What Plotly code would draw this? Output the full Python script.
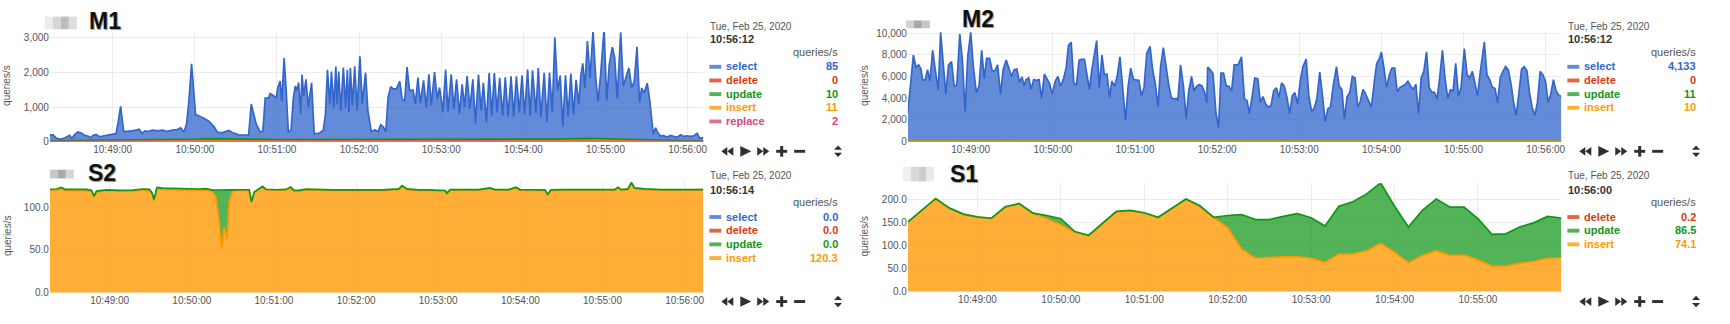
import pandas as pd
import plotly.graph_objects as go

W, H = 1730, 324
BASE = pd.Timestamp("2020-02-25 10:48:00")

COL = {"select": "#3366CC", "delete": "#DC3912", "update": "#109618",
       "insert": "#FF9900", "replace": "#DD4477"}
FILL = {"select": "rgba(51,102,204,0.76)", "delete": "rgba(220,57,18,0.78)",
        "update": "rgba(16,150,24,0.72)", "insert": "rgba(255,153,0,0.78)",
        "replace": "rgba(221,68,119,0.78)"}

# ---------------- data (time = seconds after 10:48:00) ----------------
M1_SELECT_T = [14.0, 16.4, 18.8, 21.3, 24.9, 26.8, 28.5, 30.2, 32.2, 34.6, 37.0, 39.4, 41.8, 43.8, 45.5, 47.9, 50.3, 52.7, 55.2, 58.8,
               62.4, 64.1, 65.8, 68.0, 70.9, 74.5, 77.7, 79.4, 81.3, 83.5, 85.4, 89.1, 92.7, 96.3, 98.0, 100.0, 103.6, 107.2, 109.6, 112.1,
               114.0, 115.7, 117.6, 119.3, 120.5, 123.0, 126.6, 130.2, 133.8, 136.3, 139.9, 144.7, 148.4, 152.0, 155.6, 159.3, 161.2, 162.9, 164.8, 167.7,
               169.7, 171.4, 173.8, 175.0, 177.4, 179.4, 180.6, 182.3, 183.5, 185.2, 186.6, 188.3, 190.3, 192.0, 193.4, 194.4, 195.8, 197.3, 198.3, 199.5,
               201.2, 202.9, 204.1, 205.3, 207.2, 210.1, 213.8, 215.4, 216.9, 218.6, 219.8, 221.5, 223.0, 223.9, 225.1, 226.6, 228.5, 230.2, 231.4, 232.6,
               233.6, 235.1, 236.8, 238.5, 240.6, 242.3, 244.7, 246.4, 248.9,
               251.5, 253.9, 255.8, 257.5, 259.5, 261.2, 263.1, 264.8, 267.2, 269.7, 271.4, 273.3, 275.0, 276.9, 279.4, 281.1, 283.0, 284.7, 287.1, 289.1,
               291.0, 292.7, 295.1, 297.1, 298.8, 301.2, 303.2, 304.9, 307.3, 309.2, 311.2, 313.3, 315.3, 317.0, 318.9, 320.9, 323.1, 325.0, 327.2, 329.1,
               330.8, 333.0, 335.0, 336.9, 338.8, 340.8, 342.7, 344.9, 346.8, 348.8, 351.0, 352.9, 354.9, 357.0, 359.0, 360.9, 363.1, 365.0, 366.7, 369.2,
               370.9, 372.8, 375.2, 377.2, 379.1, 381.1, 383.0, 385.0, 386.9, 388.8, 390.8, 392.7, 394.7, 396.6, 398.5, 400.5, 401.9, 403.4, 404.9, 406.8,
               408.7, 410.9, 412.9, 414.6, 416.5, 418.9, 420.9, 422.8, 425.0, 426.7, 428.6, 431.1, 433.0, 434.9, 437.1, 439.1, 441.0, 443.0, 444.9, 446.4,
               448.3, 450.5, 452.4, 454.9, 456.6, 458.3, 460.2, 462.6, 465.0, 467.4, 469.9, 472.3, 474.8, 477.2, 479.6, 482.0, 484.5, 486.9, 488.8, 491.5]
M1_SELECT = [171, 171, 76, 40, 76, 124, 152, 57, 171, 247, 219, 152, 124, 76, 143, 171, 105, 124, 143, 152,
             190, 551, 979, 247, 266, 266, 285, 314, 190, 266, 247, 285, 266, 285, 266, 247, 285, 295, 342, 219,
             456, 1121, 2185, 1406, 722, 665, 599, 504, 361, 190, 171, 247, 171, 124, 124, 124, 1026, 741, 456, 219,
             238, 1197, 1197, 1330, 1264, 1216, 1501, 1691, 1102, 2356, 1501, 219, 266, 1216, 1549, 1406, 1644, 741, 1881, 1264,
             1739, 931, 1311, 1644, 171, 171, 266, 741, 2024, 1026, 1976, 931, 2119, 1026, 1976, 836, 2090, 931, 2024, 789,
             2071, 979, 2119, 836, 2404, 1026, 1929, 836, 219,
             266, 219, 409, 361, 219, 1216, 1520, 1454, 1454, 1672, 1169, 1102, 2090, 1406, 1425, 1026, 1786, 1045, 1710, 912,
             1881, 979, 1948, 1169, 1501, 789, 2024, 817, 1881, 884, 1739, 741, 1596, 931, 1834, 884, 1739, 456, 1881, 836,
             1644, 504, 1929, 694, 1929, 789, 1786, 694, 1805, 675, 1834, 665, 1834, 789, 1862, 741, 2024, 694, 2005, 760,
             2071, 646, 1929, 504, 1929, 789, 2945, 1406, 1834, 361, 1834, 646, 1881, 694, 1691, 979, 1786, 2166, 1454, 2812,
             1739, 3116, 1739, 1074, 1881, 3164, 1121, 2166, 2660, 2356, 1169, 3097, 1549, 1786, 2071, 1501, 1691, 2689, 1074, 1501,
             1359, 1644, 1121, 171, 361, 219, 124, 143, 95, 152, 124, 95, 171, 124, 143, 124, 143, 219, 76, 85]
M1_SMALL_T = [14, 44, 74, 104, 134, 164, 194, 224, 254, 284, 314, 344, 374, 404, 434, 464, 491.5]
M1_UPDATE = [10, 15, 20, 25, 60, 30, 35, 30, 55, 40, 35, 30, 35, 65, 40, 15, 10]
M1_INSERT = [12, 15, 20, 18, 25, 20, 22, 18, 15, 20, 25, 20, 20, 30, 20, 12, 11]
M1_REPLACE = [3, 5, 4, 6, 5, 8, 6, 5, 4, 6, 5, 7, 5, 6, 5, 3, 2]
M1_DELETE = [0, 0, 0, 0, 0, 0, 0, 0, 0, 0, 0, 0, 0, 0, 0, 0, 0]

M2_SELECT_T = [14.0, 16.4, 18.1, 20.0, 22.0, 23.7, 24.9, 26.8, 28.5, 30.2, 32.2, 34.1, 36.3, 38.0, 39.9, 41.8, 43.8, 46.0, 47.9, 49.8,
               52.0, 53.9, 55.9, 57.8, 60.0, 61.9, 64.1, 66.1, 68.0, 69.9, 71.6, 73.8, 75.7, 77.7, 79.6, 81.8, 83.7, 85.9, 87.8, 89.8,
               91.7, 93.7, 95.6, 97.5, 99.0, 100.4, 102.4, 104.1, 106.0, 107.9, 109.9, 111.8, 113.8, 115.7, 117.6, 119.6, 121.7, 123.7, 125.6, 127.6,
               129.7, 131.4, 133.4, 135.3, 137.2, 139.2, 141.1, 143.1, 144.7, 146.7, 148.4, 150.3, 152.0, 153.9, 155.9, 157.6, 159.5, 161.5, 163.1, 165.1,
               167.0, 169.0, 170.9, 173.1, 175.0, 176.9, 178.9, 180.8, 182.8, 184.7, 186.6, 188.6, 191.0, 192.9, 194.9, 196.8, 198.7, 200.7, 202.6, 204.6,
               206.5, 208.4, 210.4, 211.3, 213.3, 215.4, 217.4, 219.3, 221.3, 223.2, 225.1, 227.1, 229.0, 230.9, 232.4, 233.1, 235.1, 237.0, 239.2, 241.1,
               242.8, 244.7, 246.7, 248.6, 250.6, 252.5,
               255.3, 257.8, 260.0, 261.9, 263.6, 265.5, 267.5, 269.7, 271.6, 273.5, 275.5, 277.4, 279.4, 281.3, 283.3, 285.2, 287.1, 289.1, 291.0, 293.0,
               294.9, 296.8, 298.8, 300.7, 302.7, 305.1, 307.0, 309.0, 310.9, 312.9, 315.0, 317.0, 318.9, 320.9, 322.8, 324.8, 327.2, 329.1, 331.1, 333.0,
               335.0, 336.9, 338.8, 340.8, 342.7, 344.7, 346.6, 348.5, 350.5, 352.7, 354.6, 356.6, 358.3, 360.0, 361.9, 363.8, 365.8, 367.7, 369.7, 371.6,
               373.5, 375.5, 377.4, 379.4, 381.3, 383.3, 385.2, 387.1, 389.1, 391.0, 393.0, 394.9, 396.8, 398.8, 400.7, 402.7, 404.6, 406.6, 408.5, 410.4,
               412.4, 414.3, 416.3, 418.2, 420.6, 422.6, 424.5, 426.5, 428.4, 430.3, 432.3, 435.2, 437.1, 439.1, 441.0, 443.0, 444.9, 446.8, 448.8, 450.7,
               452.7, 454.6, 456.6, 458.5, 460.4, 462.4, 464.3, 466.3, 468.2, 470.1, 472.1, 474.0, 476.0, 477.9, 479.9, 481.8, 483.7, 485.7, 487.6, 489.6,
               491.5]
M2_SELECT = [2550, 6000, 7950, 6840, 7050, 6660, 5640, 5700, 6600, 5550, 8400, 6600, 4740, 10050, 7500, 4350, 7050, 7350, 5100, 5160,
             9900, 7500, 2760, 7800, 10050, 6900, 4500, 5100, 8400, 5760, 7650, 7650, 6510, 6510, 7050, 4350, 6600, 7500, 6750, 6000,
             6600, 6660, 5460, 5940, 5100, 5700, 5850, 4800, 5700, 5640, 5700, 3960, 6210, 5700, 5340, 4350, 5550, 6000, 5100, 5700,
             6750, 8850, 9150, 5400, 5160, 7500, 7560, 7560, 6300, 4800, 6540, 7950, 9300, 4950, 7950, 6150, 6210, 4050, 5550, 5100,
             6000, 7800, 5250, 1950, 5100, 6750, 5700, 5700, 5640, 4200, 4950, 8100, 8760, 6600, 5250, 3150, 6900, 8640, 6900, 5250,
             4050, 3900, 3960, 3750, 7050, 5100, 2100, 4650, 6000, 4650, 5100, 5250, 5100, 4500, 3540, 6840, 6600, 6240, 2550, 1300,
             6300, 6300, 5100, 5100, 4650, 7050,
             7050, 7800, 3900, 3750, 2550, 4050, 5850, 5790, 3600, 4140, 3450, 3150, 3300, 4650, 4950, 4050, 5400, 5100, 4050, 2550,
             4200, 4500, 3450, 5550, 6900, 7590, 4200, 2760, 3060, 3960, 6390, 4200, 1800, 3000, 3150, 5100, 6900, 5100, 4800, 2100,
             4140, 4500, 6000, 5850, 3150, 3750, 4800, 4350, 3750, 3150, 5250, 7200, 7560, 8250, 6750, 4950, 6150, 6750, 6750, 4560,
             4950, 5100, 5250, 5550, 5100, 4800, 5250, 2550, 5850, 6450, 8250, 4950, 4560, 4500, 3900, 6000, 8400, 5700, 3960, 4740,
             4650, 7200, 4200, 4950, 8550, 6150, 5850, 6450, 5250, 4200, 6450, 9150, 6150, 5700, 5010, 4860, 3540, 5850, 6450, 6900,
             6600, 5400, 3600, 2400, 4350, 6660, 6900, 6540, 4500, 3150, 2400, 3600, 6450, 6150, 5550, 3600, 4350, 5700, 4650, 4260,
             4133]
M2_SMALL_T = [14, 74, 134, 194, 254, 314, 374, 434, 491.5]
M2_UPDATE = [12, 14, 10, 15, 12, 10, 14, 16, 11]
M2_INSERT = [10, 11, 9, 12, 10, 11, 10, 12, 10]
M2_DELETE = [0, 0, 0, 0, 0, 0, 0, 0, 0]

S2_T = [16.3, 21.2, 24.8, 27.2, 35.7, 43.0, 46.7, 48.6, 50.3, 57.6, 67.3, 77.0, 84.3, 89.1, 91.1, 92.3, 93.5, 94.5, 98.8, 106.1,
        115.8, 125.5, 130.4, 135.2, 137.7, 140.1, 141.8, 143.7, 145.7, 147.4, 149.8, 154.7, 161.9, 163.6, 165.6, 168.0, 171.7, 174.1, 181.4, 188.6,
        192.3, 194.7, 198.3, 203.2, 212.9, 222.6, 234.8, 246.9, 259.0, 271.2, 273.6, 277.2, 285.7, 293.0, 300.3, 305.1, 306.3, 308.8, 317.3, 329.4,
        337.9, 341.5, 351.3, 356.8, 359.7, 370.7, 378.0, 379.9, 382.3, 390.1, 402.2, 414.4, 428.9, 431.3, 433.8, 438.6, 441.1, 443.5, 450.8, 462.9,
        475.0, 487.2, 493.7]
S2_INSERT = [119.6, 119.6, 121.5, 119.2, 119.2, 119.2, 118.5, 111.7, 117.7, 119.2, 118.5, 118.5, 119.6, 119.2, 114.7, 107.2, 114.7, 121.5, 120.4, 120.0,
             119.6, 119.6, 120.0, 117.7, 110.9, 80.8, 50.6, 77.0, 61.9, 107.2, 118.5, 119.2, 119.2, 105.3, 116.6, 119.2, 123.0, 119.6, 119.2, 119.6,
             122.3, 118.5, 118.5, 120.0, 119.6, 119.2, 119.2, 119.2, 119.2, 120.4, 124.2, 120.4, 119.2, 119.2, 119.2, 118.5, 115.5, 119.6, 119.6, 119.6,
             121.5, 119.6, 119.6, 122.3, 119.6, 119.6, 119.2, 114.0, 119.2, 119.6, 119.6, 119.6, 119.6, 122.3, 119.6, 120.4, 127.9, 121.5, 120.4, 119.6,
             119.6, 119.6, 120.3]
S2_UPDATE = [1.2, 1.5, 1.5, 1.5, 1.5, 1.5, 1.2, 1.0, 1.0, 0.8, 1.0, 1.2, 1.5, 1.5, 1.5, 1.5, 1.5, 1.5, 1.8, 1.8,
             1.5, 1.5, 1.5, 2.0, 9.0, 39.0, 69.0, 43.0, 58.0, 13.0, 1.5, 1.0, 1.0, 1.0, 1.0, 1.0, 1.2, 1.2, 1.0, 1.0,
             1.0, 1.0, 1.0, 1.0, 0.8, 0.8, 0.8, 0.8, 0.8, 0.8, 0.8, 0.8, 0.8, 0.8, 0.8, 0.8, 0.8, 0.8, 0.8, 0.8,
             0.8, 0.8, 0.8, 0.8, 0.8, 0.8, 0.8, 0.8, 0.8, 0.8, 0.8, 0.8, 0.8, 0.8, 0.8, 0.8, 0.8, 0.8, 0.8, 0.8,
             0.8, 0.8, 0.0]
S2_ZERO_T = [16.3, 493.7]
S2_SELECT = [0.0, 0.0]
S2_DELETE = [0.0, 0.0]

S1_T = [10, 20, 30, 40, 50, 60, 70, 80, 90, 100, 110, 120, 130, 140, 150, 160, 170, 180, 190, 200, 210, 220, 230, 240,
        250, 260, 270, 280, 290, 300, 310, 320, 330, 340, 350, 360, 370, 380, 390, 400, 410, 420, 430, 440, 450, 460, 470, 480]
S1_INSERT = [151, 176, 202, 181, 168, 162, 159, 184, 191, 170, 159, 146, 129, 121, 149, 174, 176, 171, 161, 181, 201, 186, 161, 139,
             93, 73, 75, 76, 76, 73, 64, 82, 82, 89, 105, 86, 63, 79, 89, 79, 80, 69, 56, 56, 62, 66, 73, 74.1]
S1_UPDATE = [1, 1, 1, 1, 1, 1, 1, 1, 1, 1, 7, 13, 2, 2, 1, 1, 1, 1, 1, 1, 1, 1, 1, 27,
             75, 84, 82, 88, 94, 88, 79, 104, 114, 124, 132, 100, 78, 98, 113, 105, 104, 90, 69, 70, 79, 84, 91, 86.5]
S1_DELETE = [0.2, 0.2, 0.2, 0.2, 0.2, 0.2, 0.2, 0.2, 0.2, 0.2, 0.2, 0.2, 0.2, 0.2, 0.2, 0.2, 0.2, 0.2, 0.2, 0.2, 0.2, 0.2, 0.2, 0.2,
             0.2, 0.2, 0.2, 0.2, 0.2, 0.2, 0.2, 0.2, 0.2, 0.2, 0.2, 0.2, 0.2, 0.2, 0.2, 0.2, 0.2, 0.2, 0.2, 0.2, 0.2, 0.2, 0.2, 0.2]

M_XTICKS = ["10:49:00", "10:50:00", "10:51:00", "10:52:00", "10:53:00", "10:54:00", "10:55:00", "10:56:00"]
S1_XTICKS = ["10:49:00", "10:50:00", "10:51:00", "10:52:00", "10:53:00", "10:54:00", "10:55:00"]

LEG_M1 = [("select", "85"), ("delete", "0"), ("update", "10"), ("insert", "11"), ("replace", "2")]
LEG_M2 = [("select", "4,133"), ("delete", "0"), ("update", "11"), ("insert", "10")]
LEG_S2 = [("select", "0.0"), ("delete", "0.0"), ("update", "0.0"), ("insert", "120.3")]
LEG_S1 = [("delete", "0.2"), ("update", "86.5"), ("insert", "74.1")]

FONT = "Liberation Sans, Arial, sans-serif"


def X(px):
    return px / W


def Y(py):
    return 1 - py / H


def ts(t):
    return [(BASE + pd.Timedelta(seconds=float(s))).strftime("%Y-%m-%d %H:%M:%S.%f")[:-3] for s in t]


panels = [
    dict(title="M1", dom=(50, 705, 29, 142), yr=[0, 3170], yt=[0, 1000, 2000, 3000], yf=",", xr=(14.1, 491.5),
         xt=M_XTICKS, redraw=True, dx=0, dy=0, date_time="10:56:12", legend=LEG_M1,
         series=[("replace", M1_SMALL_T, M1_REPLACE), ("insert", M1_SMALL_T, M1_INSERT),
                 ("update", M1_SMALL_T, M1_UPDATE), ("delete", M1_SMALL_T, M1_DELETE),
                 ("select", M1_SELECT_T, M1_SELECT)],
         tx=88, ty=17.5, blur=((45, 77, 13, 26), ["#ececec", "#d6d6d6", "#bdbdbd", "#dedede"])),
    dict(title="M2", dom=(910, 1565, 29, 142), yr=[0, 10100], yt=[0, 2000, 4000, 6000, 8000, 10000], yf=",",
         xr=(14.1, 491.5), xt=M_XTICKS, redraw=True, dx=860, dy=0, date_time="10:56:12", legend=LEG_M2,
         series=[("insert", M2_SMALL_T, M2_INSERT), ("update", M2_SMALL_T, M2_UPDATE),
                 ("delete", M2_SMALL_T, M2_DELETE), ("select", M2_SELECT_T, M2_SELECT)],
         tx=963, ty=15.5, blur=((908, 932, 17, 25), ["#d2d2d2", "#a8a8a8", "#c6c6c6"])),
    dict(title="S2", dom=(50, 705, 183, 298), yr=[0, 130], yt=[0, 50, 100], yf=".1f", xr=(16.3, 493.7),
         xt=M_XTICKS, redraw=False, dx=0, dy=155, date_time="10:56:14", legend=LEG_S2,
         series=[("insert", S2_T, S2_INSERT), ("update", S2_T, S2_UPDATE),
                 ("delete", S2_ZERO_T, S2_DELETE), ("select", S2_ZERO_T, S2_SELECT)],
         tx=87, ty=174, blur=((50, 74, 171, 180), ["#c6c6c6", "#ababab", "#d4d4d4"])),
    dict(title="S1", dom=(910, 1565, 185, 297), yr=[0, 236], yt=[0, 50, 100, 150, 200], yf=".1f", xr=(10, 480),
         xt=S1_XTICKS, redraw=False, dx=860, dy=155, date_time="10:56:00", legend=LEG_S1,
         series=[("insert", S1_T, S1_INSERT), ("update", S1_T, S1_UPDATE), ("delete", S1_T, S1_DELETE)],
         tx=951, ty=175.5, blur=((905, 936, 168, 183), ["#f0f0f0", "#d9d9d9", "#cdcdcd", "#e9e9e9"])),
]

fig = go.Figure()
layout = dict(width=W, height=H, margin=dict(l=0, r=0, t=0, b=0), autosize=False,
              paper_bgcolor="white", plot_bgcolor="white", showlegend=False,
              font=dict(family=FONT, size=10, color="#555"))
annotations = []
shapes = []


def rect(x0, x1, y0, y1, color):
    shapes.append(dict(type="rect", xref="paper", yref="paper", x0=X(x0), x1=X(x1), y0=Y(y1), y1=Y(y0),
                       fillcolor=color, line=dict(width=0), layer="above"))


def poly(pts, color):
    d = "M " + " L ".join(f"{X(px):.6f},{Y(py):.6f}" for px, py in pts) + " Z"
    shapes.append(dict(type="path", xref="paper", yref="paper", path=d, fillcolor=color,
                       line=dict(width=0), layer="above"))


def text(x, y, s, size=10, color="#555", anchor="left", bold=False, angle=0, shadow=None):
    f = dict(family=FONT, size=size, color=color)
    if bold:
        f["weight"] = "bold"
    if shadow:
        f["shadow"] = shadow
    annotations.append(dict(x=X(x), y=Y(y), xref="paper", yref="paper", text=s, showarrow=False,
                            xanchor=anchor, yanchor="middle", font=f, textangle=angle, borderpad=0))


for i, p in enumerate(panels):
    n = "" if i == 0 else str(i + 1)
    xa, ya = "x" + n, "y" + n
    l, r, t, b = p["dom"]
    layout["xaxis" + n] = dict(domain=[X(l), X(r)], anchor=ya, type="date",
                               range=ts([p["xr"][0], p["xr"][1]]),
                               tickvals=["2020-02-25 " + s for s in p["xt"]], ticktext=p["xt"],
                               showgrid=True, gridcolor="#ececec", gridwidth=1, zeroline=False,
                               showline=False, ticks="", tickfont=dict(family=FONT, size=10, color="#555"),
                               fixedrange=True)
    layout["yaxis" + n] = dict(domain=[Y(b), Y(t)], anchor=xa, range=p["yr"], tickvals=p["yt"],
                               tickformat=p["yf"], showgrid=True, gridcolor="#ececec", gridwidth=1,
                               zeroline=False, showline=False, ticks="",
                               tickfont=dict(family=FONT, size=10, color="#555"), fixedrange=True)
    # filled stacked areas
    for name, tt, vv in p["series"]:
        fig.add_trace(go.Scatter(x=ts(tt), y=vv, stackgroup="f" + str(i), stackgaps="interpolate",
                                 mode="lines", line=dict(width=0, color=COL[name]), fillcolor=FILL[name],
                                 xaxis=xa, yaxis=ya, hoverinfo="skip"))
    # stacked outlines
    for name, tt, vv in p["series"]:
        lw = 1.7 if max(vv) >= 1 else 0
        fig.add_trace(go.Scatter(x=ts(tt), y=vv, stackgroup="l" + str(i), stackgaps="interpolate",
                                 fill="none", mode="lines", line=dict(width=lw, color=COL[name]),
                                 xaxis=xa, yaxis=ya, hoverinfo="skip"))
    if p["redraw"]:
        name, tt, vv = p["series"][0]
        fig.add_trace(go.Scatter(x=ts(tt), y=vv, mode="lines", line=dict(width=2.0, color=COL[name]),
                                 xaxis=xa, yaxis=ya, hoverinfo="skip"))

    dx, dy = p["dx"], p["dy"]
    # titles and blurred labels
    text(p["tx"], p["ty"], p["title"], size=23, color="#111", bold=True, shadow="1px 1px 1px #999")
    (bx0, bx1, by0, by1), shades = p["blur"]
    wcol = (bx1 - bx0) / len(shades)
    for k, c in enumerate(shades):
        rect(bx0 + k * wcol, bx0 + (k + 1) * wcol, by0, by1, c)
    # left y title
    text(7 + dx, (t + b) / 2 - 2, "queries/s", size=10, color="#555", anchor="center", angle=-90)
    # legend block
    lx = 711 + dx
    rx = 841 + dx
    if dy == 0:
        date_y, time_y, unit_y, row0 = 23, 36, 50, 64.3
    else:
        date_y, time_y, unit_y, row0 = 177.3, 191.7, 204.5, 219.3
    text(lx, date_y, "Tue, Feb 25, 2020", size=10, color="#555")
    text(lx, time_y, p["date_time"], size=11, color="#333", bold=True)
    text(rx, unit_y, "queries/s", size=11, color="#555", anchor="right")
    for k, (name, val) in enumerate(p["legend"]):
        ry = row0 + k * 14.1
        rect(lx, lx + 12, ry - 1.5, ry + 2.5, FILL[name])
        text(lx + 16, ry, name, size=11, color=COL[name], bold=True)
        text(rx, ry, val, size=11, color=COL[name], anchor="right", bold=True)
    # toolbox icons
    cy = 152 + dy
    ic = "#2f2f2f"
    poly([(723 + dx, cy), (729 + dx, cy - 4.5), (729 + dx, cy + 4.5)], ic)
    poly([(729 + dx, cy), (735 + dx, cy - 4.5), (735 + dx, cy + 4.5)], ic)
    poly([(742 + dx, cy - 5.5), (753 + dx, cy), (742 + dx, cy + 5.5)], ic)
    poly([(759 + dx, cy - 4.5), (765 + dx, cy), (759 + dx, cy + 4.5)], ic)
    poly([(765 + dx, cy - 4.5), (771 + dx, cy), (765 + dx, cy + 4.5)], ic)
    rect(778 + dx, 789 + dx, cy - 1.5, cy + 1.5, ic)
    rect(782 + dx, 785 + dx, cy - 5.5, cy + 5.5, ic)
    rect(796 + dx, 807 + dx, cy - 1.5, cy + 1.5, ic)
    poly([(836 + dx, cy - 1.5), (840 + dx, cy - 6), (844 + dx, cy - 1.5)], ic)
    poly([(836 + dx, cy + 1.5), (840 + dx, cy + 6), (844 + dx, cy + 1.5)], ic)

layout["annotations"] = annotations
layout["shapes"] = shapes
fig.update_layout(**layout)
fig.write_html("out.html")
